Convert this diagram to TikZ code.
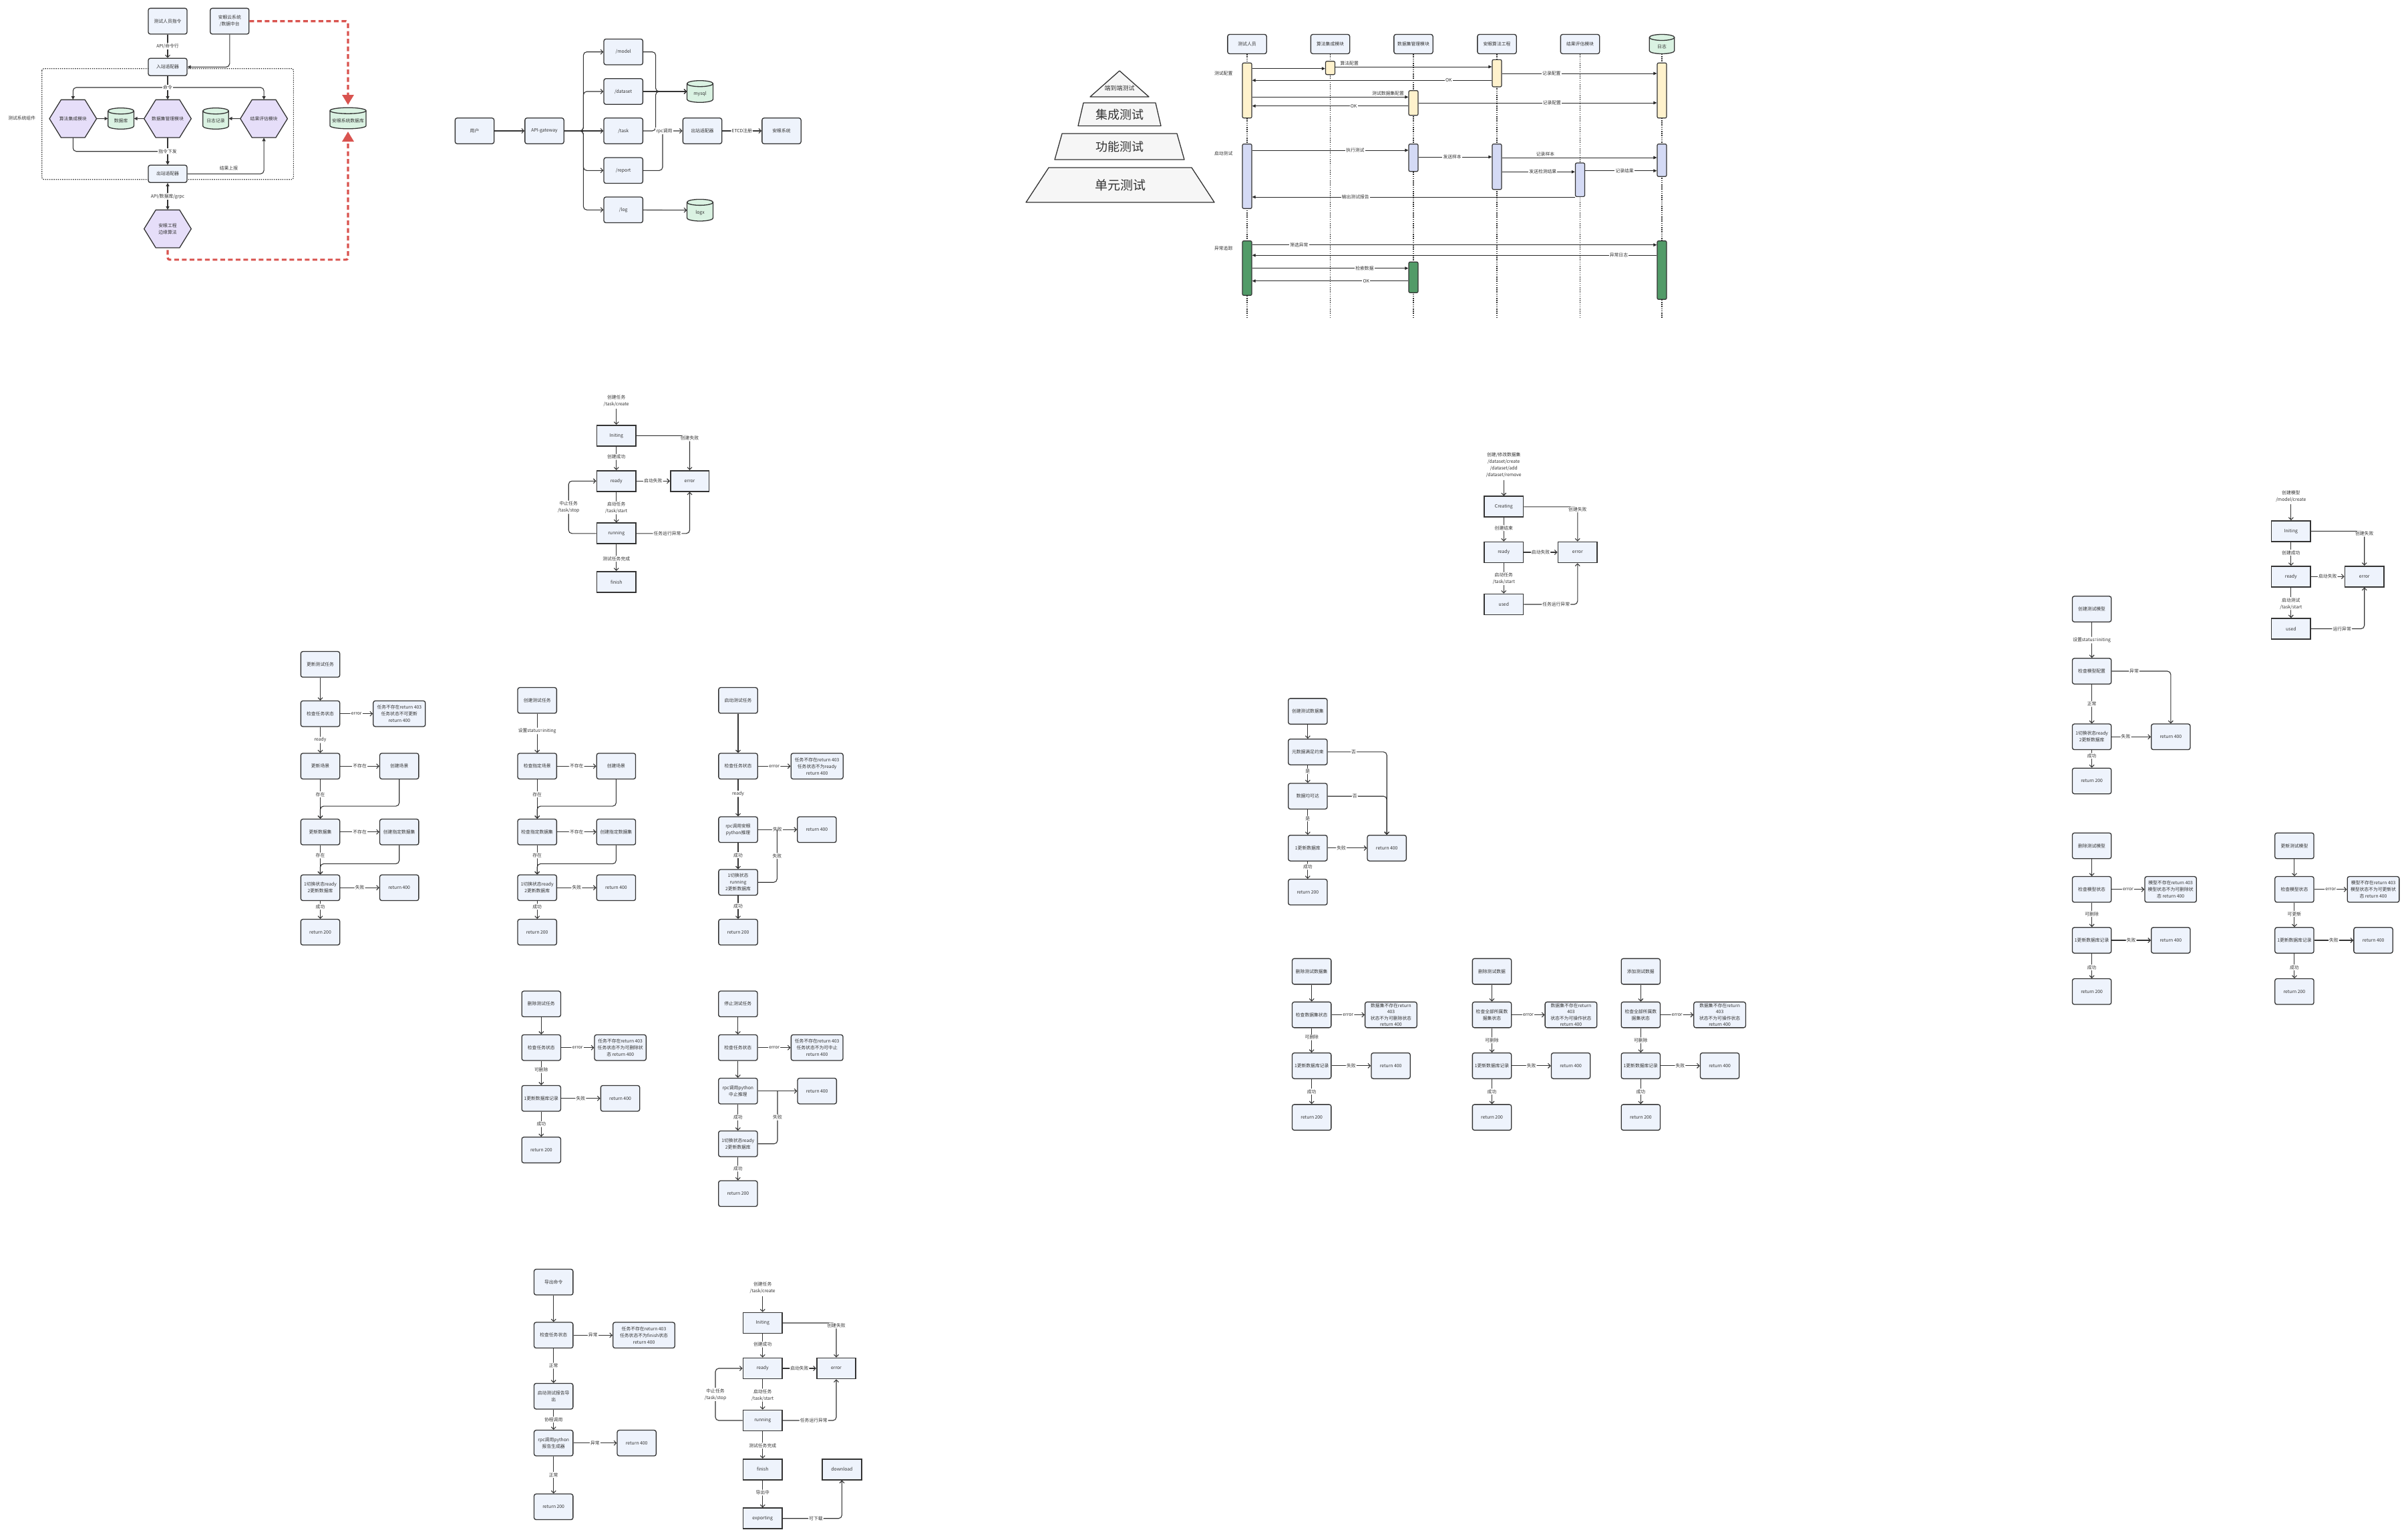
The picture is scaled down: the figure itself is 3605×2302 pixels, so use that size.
\documentclass[tikz,border=0pt]{standalone}
\usepackage{fontspec}
\setmainfont{Noto Sans CJK SC}
\usetikzlibrary{arrows.meta}

\definecolor{boxfill}{HTML}{EEF3FC}
\definecolor{boxline}{HTML}{333333}
\definecolor{hexfill}{HTML}{E6DEF9}
\definecolor{cylfill}{HTML}{DAF2E2}
\definecolor{txt}{HTML}{333333}
\definecolor{alarm}{HTML}{D9534F}
\definecolor{actyellow}{HTML}{FFF2CC}
\definecolor{actblue}{HTML}{D4DAF5}
\definecolor{actgreen}{HTML}{529B68}

\tikzset{
  % boxes
  fbox/.style={draw=boxline, fill=boxfill, line width=1.3pt, rounded corners=3pt,
    minimum width=58.3pt, minimum height=38.5pt, inner sep=1.5pt, align=center},
  sbox/.style={draw=boxline, fill=boxfill, line width=1.7pt,
    minimum width=58.5pt, minimum height=31pt, align=center},
  hexsize/.style={minimum width=70.6pt, minimum height=56.7pt, inner sep=0pt, align=center},
  hexline/.style={draw=boxline, fill=hexfill, line width=1.3pt, line join=round},
  cylline/.style={draw=boxline, fill=cylfill, line width=1.3pt},
  cylsize/.style={inner sep=0pt},
  act/.style={draw=boxline, line width=1.2pt, rounded corners=2pt, minimum width=14pt, inner sep=0pt},
  % lines
  flow/.style={draw=boxline, line width=1.1pt, rounded corners=5pt, -{Straight Barb[length=3.5pt,width=7pt]}},
  flowline/.style={draw=boxline, line width=1.1pt, rounded corners=5pt},
  arr/.style={draw=boxline, line width=1.1pt, rounded corners=5pt, -{Triangle[length=5pt,width=5pt]}},
  arrboth/.style={draw=boxline, line width=1.1pt, {Triangle[length=5pt,width=5pt]}-{Triangle[length=5pt,width=5pt]}},
  msg/.style={draw=black!85, line width=1pt, -{Triangle[length=5pt,width=4.5pt]}},
  life/.style={draw=boxline, line width=1.1pt, dash pattern=on 1.6pt off 1.6pt},
  zone/.style={draw=boxline, line width=1.1pt, dash pattern=on 1.5pt off 1.7pt, rounded corners=3pt},
  alarmline/.style={draw=alarm, line width=3.2pt, dash pattern=on 7pt off 4.5pt, rounded corners=3pt,
    shorten >=4pt, -{Triangle[length=15pt,width=17pt]}},
  pyr/.style={draw=boxline, fill=gray!7, line width=1.3pt, line join=round},
  lbl/.style={fill=white, inner sep=1.2pt, align=center},
}

% hexagon: name, x, y, text
\newcommand{\hexnode}[4]{%
  \filldraw[hexline] (#2-35.3,#3) -- ++(17.5,-28.35) -- ++(35.6,0) -- ++(17.5,28.35)
    -- ++(-17.5,28.35) -- ++(-35.6,0) -- cycle;
  \node[hexsize] (#1) at (#2,#3) {#4};}

% cylinder: name, x, y, half width, half height, text
\newcommand{\cylnode}[6]{%
  \filldraw[cylline] (#2-#4,#3-#5+4.5) -- (#2-#4,#3+#5-4.5)
    arc[start angle=180, end angle=360, x radius=#4pt, y radius=4.5pt]
    -- (#2+#4,#3-#5+4.5)
    arc[start angle=0, end angle=180, x radius=#4pt, y radius=4.5pt] -- cycle;
  \draw[cylline, fill=none] (#2-#4,#3-#5+4.5)
    arc[start angle=180, end angle=360, x radius=#4pt, y radius=4.5pt];
  \node[cylsize, minimum width=2*#4pt, minimum height=2*#5pt] (#1) at (#2,#3) {};
  \node[inner sep=0pt] (#1-t) at (#2,#3+3.5) {#6};}

\begin{document}
\begin{tikzpicture}[x=1pt, y=-1pt, font=\fontsize{6.8}{10}\selectfont, text=txt]

  \useasboundingbox (0,0) rectangle (3605,2302);
  \fill[white] (0,0) rectangle (3605,2302);

  % ---------------- system architecture ----------------
  \draw[zone] (62.7,102.7) rectangle (439.4,268.7);
  \node (zoneT) at (32.7,177.3) {测试系统组件};
  \node[fbox, minimum width=58pt, minimum height=38.7pt] (cmd) at (251,31.7) {测试人员指令};
  \node[fbox, minimum width=58pt, minimum height=38.7pt] (cloud) at (343.8,31.7) {安眼云系统\\/数据中台};
  \node[fbox, minimum width=58pt, minimum height=26pt] (inad) at (251,100.3) {入站适配器};
  \node[fbox, minimum width=58pt, minimum height=26pt] (outad) at (251,260.3) {出站适配器};
  \hexnode{alg}{109.3}{177.7}{算法集成模块}
  \hexnode{dsm}{251}{177.7}{数据集管理模块}
  \hexnode{res}{395.1}{177.7}{结果评估模块}
  \hexnode{edgeHex}{251}{342.7}{安眼工程\\边缘算法}
  \cylnode{db}{181.1}{177.5}{19.3}{15.8}{数据库}
  \cylnode{logdb}{323}{177.5}{19.3}{15.8}{日志记录}
  \cylnode{sysdb}{521}{177}{27}{15.8}{安眼系统数据库}

  \draw[flow] (cmd) -- node[lbl]{API/命令行} (inad);
  \draw[arr] (cloud.south) |- (inad.east);
  \coordinate (cmdY) at (251,131);
  \draw[arr] (inad.south) -- (cmdY) -| (alg.north);
  \draw[arr] (inad.south) -- (dsm.north);
  \draw[arr] (inad.south) -- (cmdY) -| (res.north);
  \node[lbl] (cmdL) at (cmdY) {命令};
  \draw[arr] (alg.east) -- (db.west);
  \draw[arr] (dsm.west) -- (db.east);
  \draw[arr] (res.west) -- (logdb.east);
  \coordinate (cmdZ) at (251,226.7);
  \draw[arr] (alg.south) |- (cmdZ) -- (outad.north);
  \draw[arr] (dsm.south) -- (outad.north);
  \node[lbl] (cmdZL) at (cmdZ) {指令下发};
  \draw[arr] (outad.east) -| node[pos=0.27, above=1pt]{结果上报} (res.south);
  \draw[arrboth] (outad) -- node[lbl]{API/数据库/grpc} (edgeHex);
  \draw[alarmline] (cloud.east) -| (sysdb.north);
  \draw[alarmline, shorten <=3pt] (edgeHex.south) -- ++(0,17.6) -| (sysdb.south);

  % ---------------- api gateway ----------------
  \node[fbox] (user) at (710.5,196) {用户};
  \node[fbox] (gw) at (815,196) {API-gateway};
  \node[fbox] (mdl) at (933.2,77.7) {/model};
  \node[fbox] (dset) at (933.2,137) {/dataset};
  \node[fbox] (task) at (933.2,196) {/task};
  \node[fbox] (rep) at (933.2,255.3) {/report};
  \node[fbox] (logr) at (933.2,314.3) {/log};
  \cylnode{mysql}{1048}{137}{19.5}{16.3}{mysql}
  \cylnode{logx}{1048}{314.7}{19.5}{16.3}{logx}
  \node[fbox] (out) at (1051.5,196) {出站适配器};
  \node[fbox] (sys) at (1170,196) {安眼系统};

  \draw[flow] (user) -- (gw);
  \coordinate (gwB) at (873.4,196);
  \foreach \t in {mdl,dset,rep,logr}
    \draw[flow] (gw.east) -- (gwB) |- (\t.west);
  \draw[flow] (gw) -- (task);
  \coordinate (dbB) at (981.6,137);
  \draw[flow] (mdl.east) -| (dbB) -- (mysql.west);
  \draw[flow] (task.east) -| (dbB) -- (mysql.west);
  \draw[flow] (dset) -- (mysql.west);
  \coordinate (rpcP) at (992,196);
  \draw[flow] (rep.east) -| (rpcP) -- (out.west);
  \node[lbl] (rpcL) at (994.5,196) {rpc调用};
  \draw[flow] (out) -- node[lbl]{ETCD注册} (sys);
  \draw[flow] (logr) -- (logx.west);

  % ---------------- test pyramid ----------------
  \filldraw[pyr] (1676,106) -- (1720,145) -- (1632,145) -- cycle;
  \node[font=\fontsize{9}{10}\selectfont] (pyrA) at (1676,132) {端到端测试};
  \filldraw[pyr] (1622,154) -- (1730,154) -- (1738,188.5) -- (1614,188.5) -- cycle;
  \node[font=\fontsize{18}{20}\selectfont] (pyrB) at (1676,171.5) {集成测试};
  \filldraw[pyr] (1590,200) -- (1762,200) -- (1773,239) -- (1579,239) -- cycle;
  \node[font=\fontsize{18}{20}\selectfont] (pyrC) at (1676,219.5) {功能测试};
  \filldraw[pyr] (1570,251) -- (1784,251) -- (1818,303) -- (1536,303) -- cycle;
  \node[font=\fontsize{19}{21}\selectfont] (pyrD) at (1677,277) {单元测试};

  % ---------------- sequence ----------------
  \foreach \n/\x/\t in {hTs/1867/测试人员, hAl/1991.5/算法集成模块, hDs/2116/数据集管理模块,
                        hEn/2241/安眼算法工程, hRs/2365.5/结果评估模块}
    \node[fbox, minimum height=29pt] (\n) at (\x,66) {\t};
  \cylnode{hLg}{2488}{66}{18.8}{14.5}{日志}
  \foreach \n in {hTs,hAl,hDs,hEn,hRs,hLg}
    \draw[life] (\n.south) -- (\n.south |- 0,476.7);

  \node (phA) at (1831.7,110.3) {测试配置};
  \node (phB) at (1831.7,230.3) {启动测试};
  \node (phC) at (1831.7,372.3) {异常追踪};

  \node[act, fill=actyellow, minimum height=82.4pt] (tsY) at (1867,135.5) {};
  \node[act, fill=actblue, minimum height=96.6pt] (tsB) at (1867,264) {};
  \node[act, fill=actgreen, minimum height=81.6pt] (tsG) at (1867,401.5) {};
  \node[act, fill=actyellow, minimum height=20pt] (alY) at (1991.5,101.7) {};
  \node[act, fill=actyellow, minimum height=37pt] (dsY) at (2116,154.2) {};
  \node[act, fill=actblue, minimum height=41pt] (dsB) at (2116,236.2) {};
  \node[act, fill=actgreen, minimum height=46pt] (dsG) at (2116,415.3) {};
  \node[act, fill=actyellow, minimum height=40.7pt] (enY) at (2241,109.7) {};
  \node[act, fill=actblue, minimum height=68pt] (enB) at (2241,249.7) {};
  \node[act, fill=actblue, minimum height=50.3pt] (rsB) at (2365.5,269.2) {};
  \node[act, fill=actyellow, minimum height=82.4pt] (lgY) at (2488,135.5) {};
  \node[act, fill=actblue, minimum height=48.6pt] (lgB) at (2488,240) {};
  \node[act, fill=actgreen, minimum height=87.6pt] (lgG) at (2488,404.5) {};

  % configuration
  \draw[msg] (tsY.east |- 0,102.7) -- (alY.west |- 0,102.7);
  \draw[msg] (alY.east |- 0,100) -- node[pos=0.09, above=0.5pt, inner sep=1pt]{算法配置} (enY.west |- 0,100);
  \draw[msg] (enY.west |- 0,120.3) -- node[lbl, pos=0.18]{OK} (tsY.east |- 0,120.3);
  \draw[msg] (enY.east |- 0,110) -- node[lbl, pos=0.32]{记录配置} (lgY.west |- 0,110);
  \draw[msg] (tsY.east |- 0,145.3) -- node[pos=0.87, above=0.5pt, inner sep=1pt]{测试数据集配置} (dsY.west |- 0,145.3);
  \draw[msg] (dsY.west |- 0,158.7) -- node[lbl, pos=0.35]{OK} (tsY.east |- 0,158.7);
  \draw[msg] (dsY.east |- 0,154) -- node[lbl, pos=0.56]{记录配置} (lgY.west |- 0,154);
  % run
  \draw[msg] (tsB.east |- 0,225) -- node[lbl, pos=0.66]{执行测试} (dsB.west |- 0,225);
  \draw[msg] (dsB.east |- 0,235) -- node[lbl, pos=0.46]{发送样本} (enB.west |- 0,235);
  \draw[msg] (enB.east |- 0,236) -- node[pos=0.28, above=0.5pt, inner sep=1pt]{记录样本} (lgB.west |- 0,236);
  \draw[msg] (enB.east |- 0,257.3) -- node[lbl, pos=0.56]{发送检测结果} (rsB.west |- 0,257.3);
  \draw[msg] (rsB.east |- 0,255.7) -- node[lbl, pos=0.55]{记录结果} (lgB.west |- 0,255.7);
  \draw[msg] (rsB.west |- 0,295) -- node[lbl, pos=0.68]{输出测试报告} (tsB.east |- 0,295);
  % tracing
  \draw[msg] (tsG.east |- 0,366.7) -- node[lbl, pos=0.116]{筛选异常} (lgG.west |- 0,366.7);
  \draw[msg] (lgG.west |- 0,382.3) -- node[lbl, pos=0.094]{异常日志} (tsG.east |- 0,382.3);
  \draw[msg] (tsG.east |- 0,401.7) -- node[lbl, pos=0.72]{检索数据} (dsG.west |- 0,401.7);
  \draw[msg] (dsG.west |- 0,420.7) -- node[lbl, pos=0.27]{OK} (tsG.east |- 0,420.7);

  % ---------------- task states ----------------
  \node[align=center] (s1L) at (922.7,600) {创建任务\\/task/create};
  \node[sbox] (s1init) at (922.7,652.3) {Initing};
  \node[sbox] (s1ready) at (922.7,720.3) {ready};
  \node[sbox] (s1run) at (922.7,798.8) {running};
  \node[sbox] (s1fin) at (922.7,871.3) {finish};
  \node[sbox, minimum width=57.7pt] (s1err) at (1032.5,720.3) {error};
  \draw[flow] (s1L) -- (s1init);
  \draw[flow] (s1init) -| node[lbl, pos=0.5, yshift=-4pt]{创建失败} (s1err);
  \draw[flow] (s1init) -- node[lbl, pos=0.44]{创建成功} (s1ready);
  \draw[flow] (s1ready) -- node[lbl]{启动失败} (s1err);
  \draw[flow] (s1ready) -- node[lbl, pos=0.52]{启动任务\\/task/start} (s1run);
  \draw[flow] (s1run.west) -- ++(-41.4,0) |- node[lbl, pos=0.25]{中止任务\\/task/stop} (s1ready.west);
  \draw[flow] (s1run) -| node[lbl, pos=0.29]{任务运行异常} (s1err);
  \draw[flow] (s1run) -- node[lbl, pos=0.54]{测试任务完成} (s1fin);

  % ---------------- dataset states ----------------
  \node[align=center] (s2L) at (2251.3,696.7) {创建/修改数据集\\/dataset/create\\/dataset/add\\/dataset/remove};
  \node[sbox] (s2cre) at (2251.3,758.8) {Creating};
  \node[sbox] (s2ready) at (2251.3,827) {ready};
  \node[sbox] (s2used) at (2251.3,905) {used};
  \node[sbox] (s2err) at (2361.8,827) {error};
  \draw[flow] (s2L) -- (s2cre);
  \draw[flow] (s2cre) -| node[lbl, pos=0.5, yshift=-4pt]{创建失败} (s2err);
  \draw[flow] (s2cre) -- node[lbl, pos=0.44]{创建结束} (s2ready);
  \draw[flow] (s2ready) -- node[lbl]{启动失败} (s2err);
  \draw[flow] (s2ready) -- node[lbl, pos=0.51]{启动任务\\/task/start} (s2used);
  \draw[flow] (s2used) -| node[lbl, pos=0.3]{任务运行异常} (s2err);

  % ---------------- model states ----------------
  \node[align=center] (s3L) at (3429.8,742.8) {创建模型\\/model/create};
  \node[sbox] (s3init) at (3429.8,795.3) {Initing};
  \node[sbox] (s3ready) at (3429.8,863.3) {ready};
  \node[sbox] (s3used) at (3429.8,941.5) {used};
  \node[sbox] (s3err) at (3539.7,863.3) {error};
  \draw[flow] (s3L) -- (s3init);
  \draw[flow] (s3init) -| node[lbl, pos=0.5, yshift=-4pt]{创建失败} (s3err);
  \draw[flow] (s3init) -- node[lbl, pos=0.45]{创建成功} (s3ready);
  \draw[flow] (s3ready) -- node[lbl]{启动失败} (s3err);
  \draw[flow] (s3ready) -- node[lbl, pos=0.53]{启动测试\\/task/start} (s3used);
  \draw[flow] (s3used) -| node[lbl, pos=0.29]{运行异常} (s3err);

  % ---------------- report task states ----------------
  \node[align=center] (nL) at (1141.7,1928.7) {创建任务\\/task/create};
  \node[sbox] (ninit) at (1141.7,1981) {Initing};
  \node[sbox] (nready) at (1141.7,2049) {ready};
  \node[sbox] (nrun) at (1141.7,2127) {running};
  \node[sbox] (nfin) at (1141.7,2200.2) {finish};
  \node[sbox] (nexp) at (1141.7,2273.7) {exporting};
  \node[sbox] (nerr) at (1252,2049) {error};
  \node[sbox] (ndown) at (1260.4,2200.2) {download};
  \draw[flow] (nL) -- (ninit);
  \draw[flow] (ninit) -| node[lbl, pos=0.5, yshift=-4pt]{创建失败} (nerr);
  \draw[flow] (ninit) -- node[lbl, pos=0.45]{创建成功} (nready);
  \draw[flow] (nready) -- node[lbl]{启动失败} (nerr);
  \draw[flow] (nready) -- node[lbl, pos=0.52]{启动任务\\/task/start} (nrun);
  \draw[flow] (nrun.west) -- ++(-40.6,0) |- node[lbl, pos=0.25]{中止任务\\/task/stop} (nready.west);
  \draw[flow] (nrun) -| node[lbl, pos=0.29]{任务运行异常} (nerr);
  \draw[flow] (nrun) -- node[lbl, pos=0.53]{测试任务完成} (nfin);
  \draw[flow] (nfin) -- node[lbl, pos=0.45]{导出中} (nexp);
  \draw[flow] (nexp) -| node[lbl, pos=0.28]{可下载} (ndown);

  % ---------------- update task ----------------
  \node[fbox] (h1) at (479.5,994.8) {更新测试任务};
  \node[fbox] (h2) at (479.5,1068.7) {检查任务状态};
  \node[fbox, minimum width=78pt] (h2e) at (597.8,1068.7) {任务不存在return 403\\任务状态不可更新\\return 400};
  \node[fbox] (h3) at (479.5,1147.2) {更新场景};
  \node[fbox] (h3r) at (597.7,1147.2) {创建场景};
  \node[fbox] (h4) at (479.5,1245.8) {更新数据集};
  \node[fbox] (h4r) at (597.7,1245.8) {创建指定数据集};
  \node[fbox] (h5) at (479.5,1329.3) {1切换状态ready\\2更新数据库};
  \node[fbox] (h5r) at (597.7,1329.3) {return 400};
  \node[fbox] (h6) at (479.5,1395.8) {return 200};
  \draw[flow] (h1) -- (h2);
  \draw[flow] (h2) -- node[lbl]{error} (h2e);
  \draw[flow] (h2) -- node[lbl]{ready} (h3);
  \draw[flow] (h3) -- node[lbl]{不存在} (h3r);
  \draw[flow] (h3) -- node[lbl, pos=0.38]{存在} (h4);
  \draw[flow] (h3r.south) -- ++(0,40) -| (h4.north);
  \draw[flow] (h4) -- node[lbl]{不存在} (h4r);
  \draw[flow] (h4) -- node[lbl, pos=0.35]{存在} (h5);
  \draw[flow] (h4r.south) -- ++(0,27.7) -| (h5.north);
  \draw[flow] (h5) -- node[lbl]{失败} (h5r);
  \draw[flow] (h5) -- node[lbl, pos=0.32]{成功} (h6);

  % ---------------- create task ----------------
  \node[fbox] (i1) at (804.2,1048.8) {创建测试任务};
  \node[fbox] (i2) at (804.2,1147.2) {检查指定场景};
  \node[fbox] (i2r) at (922.4,1147.2) {创建场景};
  \node[fbox] (i3) at (804.2,1245.8) {检查指定数据集};
  \node[fbox] (i3r) at (922.4,1245.8) {创建指定数据集};
  \node[fbox] (i4) at (804.2,1329.3) {1切换状态ready\\2更新数据库};
  \node[fbox] (i4r) at (922.4,1329.3) {return 400};
  \node[fbox] (i5) at (804.2,1395.8) {return 200};
  \draw[flow] (i1) -- node[lbl, pos=0.44]{设置status=initing} (i2);
  \draw[flow] (i2) -- node[lbl]{不存在} (i2r);
  \draw[flow] (i2) -- node[lbl, pos=0.38]{存在} (i3);
  \draw[flow] (i2r.south) -- ++(0,40) -| (i3.north);
  \draw[flow] (i3) -- node[lbl]{不存在} (i3r);
  \draw[flow] (i3) -- node[lbl, pos=0.35]{存在} (i4);
  \draw[flow] (i3r.south) -- ++(0,27.7) -| (i4.north);
  \draw[flow] (i4) -- node[lbl]{失败} (i4r);
  \draw[flow] (i4) -- node[lbl, pos=0.32]{成功} (i5);

  % ---------------- start task ----------------
  \node[fbox] (j1) at (1105,1048.8) {启动测试任务};
  \node[fbox] (j2) at (1105,1147.2) {检查任务状态};
  \node[fbox, minimum width=78pt] (j2e) at (1223.2,1147.2) {任务不存在return 403\\任务状态不为ready\\return 400};
  \node[fbox] (j3) at (1105,1242.3) {rpc调用安眼\\python推理};
  \node[fbox] (j3r) at (1222.9,1242.3) {return 400};
  \node[fbox] (j4) at (1105,1321.2) {1切换状态\\running\\2更新数据库};
  \node[fbox] (j5) at (1105,1395.8) {return 200};
  \coordinate (jM) at (1163.3,1242.3);
  \draw[flow] (j1) -- (j2);
  \draw[flow] (j2) -- node[lbl]{error} (j2e);
  \draw[flow] (j2) -- node[lbl, pos=0.39]{ready} (j3);
  \draw[flow] (j3) -- node[lbl]{失败} (j3r);
  \draw[flow] (j3) -- node[lbl, pos=0.47]{成功} (j4);
  \draw[flowline] (j4) -| node[lbl, pos=0.75]{失败} (jM);
  \draw[flow] (j4) -- node[lbl, pos=0.45]{成功} (j5);

  % ---------------- delete task ----------------
  \node[fbox] (k1) at (810.3,1503.3) {删除测试任务};
  \node[fbox] (k2) at (810.3,1568.7) {检查任务状态};
  \node[fbox, minimum width=77.3pt] (k2e) at (928.7,1568.7) {任务不存在return 403\\任务状态不为可删除状\\态 return 400};
  \node[fbox] (k3) at (810.3,1644.7) {1更新数据库记录};
  \node[fbox] (k3r) at (928.5,1644.7) {return 400};
  \node[fbox] (k4) at (810.3,1722) {return 200};
  \draw[flow] (k1) -- (k2);
  \draw[flow] (k2) -- node[lbl]{error} (k2e);
  \draw[flow] (k2) -- node[lbl, pos=0.38]{可删除} (k3);
  \draw[flow] (k3) -- node[lbl]{失败} (k3r);
  \draw[flow] (k3) -- node[lbl]{成功} (k4);

  % ---------------- stop task ----------------
  \node[fbox] (p1) at (1104.8,1503.3) {停止测试任务};
  \node[fbox] (p2) at (1104.8,1568.7) {检查任务状态};
  \node[fbox, minimum width=77.7pt] (p2e) at (1223.2,1568.7) {任务不存在return 403\\任务状态不为可中止\\return 400};
  \node[fbox] (p3) at (1104.8,1633.7) {rpc调用python\\中止推理};
  \node[fbox] (p3r) at (1223.2,1633.7) {return 400};
  \node[fbox] (p4) at (1104.8,1712.7) {1切换状态ready\\2更新数据库};
  \node[fbox] (p5) at (1104.8,1787.3) {return 200};
  \coordinate (pM) at (1164,1633.7);
  \draw[flow] (p1) -- (p2);
  \draw[flow] (p2) -- node[lbl]{error} (p2e);
  \draw[flow] (p2) -- (p3);
  \draw[flow] (p3) -- (p3r);
  \draw[flow] (p3) -- node[lbl]{成功} (p4);
  \draw[flowline] (p4) -| node[lbl, pos=0.75]{失败} (pM);
  \draw[flow] (p4) -- node[lbl]{成功} (p5);

  % ---------------- export report ----------------
  \node[fbox] (m1) at (828.7,1919.8) {导出命令};
  \node[fbox] (m2) at (828.7,1999.3) {检查任务状态};
  \node[fbox, minimum width=92.6pt] (m2e) at (964,1999.3) {任务不存在return 403\\任务状态不为finish状态\\return 400};
  \node[fbox] (m3) at (828.7,2090.7) {启动测试报告导\\出};
  \node[fbox] (m4) at (828.7,2160.8) {rpc调用python\\报告生成器};
  \node[fbox] (m4r) at (953.2,2160.8) {return 400};
  \node[fbox] (m5) at (828.7,2256.3) {return 200};
  \draw[flow] (m1) -- (m2);
  \draw[flow] (m2) -- node[lbl]{异常} (m2e);
  \draw[flow] (m2) -- node[lbl]{正常} (m3);
  \draw[flow] (m3) -- node[lbl]{协程调用} (m4);
  \draw[flow] (m4) -- node[lbl]{异常} (m4r);
  \draw[flow] (m4) -- node[lbl]{正常} (m5);

  % ---------------- create dataset ----------------
  \node[fbox] (d1) at (1957.8,1065.1) {创建测试数据集};
  \node[fbox] (d2) at (1957.8,1125.9) {元数据满足约束};
  \node[fbox] (d3) at (1957.8,1192.2) {数据均可达};
  \node[fbox] (d4) at (1957.8,1269.9) {1更新数据库};
  \node[fbox] (d4r) at (2076.2,1269.9) {return 400};
  \node[fbox] (d5) at (1957.8,1335.8) {return 200};
  \draw[flow] (d1) -- (d2);
  \draw[flow] (d2) -| node[lbl, pos=0.22]{否} (d4r);
  \draw[flow] (d2) -- node[lbl, pos=0.34]{是} (d3);
  \draw[flow] (d3) -| node[lbl, pos=0.23]{否} (d4r);
  \draw[flow] (d3) -- node[lbl, pos=0.36]{是} (d4);
  \draw[flow] (d4) -- node[lbl, pos=0.35]{失败} (d4r);
  \draw[flow] (d4) -- node[lbl, pos=0.31]{成功} (d5);

  % ---------------- delete dataset ----------------
  \node[fbox] (e1) at (1963.7,1454.6) {删除测试数据集};
  \node[fbox] (e2) at (1963.7,1519.6) {检查数据集状态};
  \node[fbox, minimum width=77.6pt, font=\fontsize{6.8}{9.3}\selectfont] (e2e) at (2082.4,1519.6) {数据集不存在return\\403\\状态不为可删除状态\\return 400};
  \node[fbox] (e3) at (1963.7,1595.9) {1更新数据库记录};
  \node[fbox] (e3r) at (2082.1,1595.9) {return 400};
  \node[fbox] (e4) at (1963.7,1673.1) {return 200};
  \draw[flow] (e1) -- (e2);
  \draw[flow] (e2) -- node[lbl]{error} (e2e);
  \draw[flow] (e2) -- node[lbl, pos=0.38]{可删除} (e3);
  \draw[flow] (e3) -- node[lbl]{失败} (e3r);
  \draw[flow] (e3) -- node[lbl]{成功} (e4);

  % ---------------- delete data ----------------
  \node[fbox] (f1) at (2233.5,1454.6) {删除测试数据};
  \node[fbox] (f2) at (2233.5,1519.6) {检查全部所属数\\据集状态};
  \node[fbox, minimum width=77.6pt, font=\fontsize{6.8}{9.3}\selectfont] (f2e) at (2351.9,1519.6) {数据集不存在return\\403\\状态不为可操作状态\\return 400};
  \node[fbox] (f3) at (2233.5,1595.9) {1更新数据库记录};
  \node[fbox] (f3r) at (2351.6,1595.9) {return 400};
  \node[fbox] (f4) at (2233.5,1673.1) {return 200};
  \draw[flow] (f1) -- (f2);
  \draw[flow] (f2) -- node[lbl]{error} (f2e);
  \draw[flow] (f2) -- node[lbl]{可删除} (f3);
  \draw[flow] (f3) -- node[lbl]{失败} (f3r);
  \draw[flow] (f3) -- node[lbl]{成功} (f4);

  % ---------------- add data ----------------
  \node[fbox] (g1) at (2456.3,1454.6) {添加测试数据};
  \node[fbox] (g2) at (2456.3,1519.6) {检查全部所属数\\据集状态};
  \node[fbox, minimum width=77.6pt, font=\fontsize{6.8}{9.3}\selectfont] (g2e) at (2574.6,1519.6) {数据集不存在return\\403\\状态不为可操作状态\\return 400};
  \node[fbox] (g3) at (2456.3,1595.9) {1更新数据库记录};
  \node[fbox] (g3r) at (2574.6,1595.9) {return 400};
  \node[fbox] (g4) at (2456.3,1673.1) {return 200};
  \draw[flow] (g1) -- (g2);
  \draw[flow] (g2) -- node[lbl]{error} (g2e);
  \draw[flow] (g2) -- node[lbl]{可删除} (g3);
  \draw[flow] (g3) -- node[lbl]{失败} (g3r);
  \draw[flow] (g3) -- node[lbl]{成功} (g4);

  % ---------------- create model ----------------
  \node[fbox] (a1) at (3131.6,912) {创建测试模型};
  \node[fbox] (a2) at (3131.6,1005) {检查模型配置};
  \node[fbox] (a3) at (3131.6,1103.3) {1切换状态ready\\2更新数据库};
  \node[fbox] (a3r) at (3249.8,1103.3) {return 400};
  \node[fbox] (a4) at (3131.6,1169.4) {return 200};
  \draw[flow] (a1) -- node[lbl]{设置status=initing} (a2);
  \draw[flow] (a2) -| node[lbl, pos=0.19]{异常} (a3r);
  \draw[flow] (a2) -- node[lbl]{正常} (a3);
  \draw[flow] (a3) -- node[lbl, pos=0.36]{失败} (a3r);
  \draw[flow] (a3) -- node[lbl, pos=0.33]{成功} (a4);

  % ---------------- delete model ----------------
  \node[fbox] (b1) at (3131.6,1266.5) {删除测试模型};
  \node[fbox] (b2) at (3131.6,1331.8) {检查模型状态};
  \node[fbox, minimum width=77.3pt] (b2e) at (3249.6,1331.8) {模型不存在return 403\\模型状态不为可删除状\\态 return 400};
  \node[fbox] (b3) at (3131.6,1408) {1更新数据库记录};
  \node[fbox] (b3r) at (3249.8,1408) {return 400};
  \node[fbox] (b4) at (3131.6,1484.8) {return 200};
  \draw[flow] (b1) -- (b2);
  \draw[flow] (b2) -- node[lbl]{error} (b2e);
  \draw[flow] (b2) -- node[lbl, pos=0.46]{可删除} (b3);
  \draw[flow] (b3) -- node[lbl]{失败} (b3r);
  \draw[flow] (b3) -- node[lbl, pos=0.56]{成功} (b4);

  % ---------------- update model ----------------
  \node[fbox] (c1) at (3434.9,1266.5) {更新测试模型};
  \node[fbox] (c2) at (3434.9,1331.8) {检查模型状态};
  \node[fbox, minimum width=77.7pt] (c2e) at (3553,1331.8) {模型不存在return 403\\模型状态不为可更新状\\态 return 400};
  \node[fbox] (c3) at (3434.9,1408) {1更新数据库记录};
  \node[fbox] (c3r) at (3553,1408) {return 400};
  \node[fbox] (c4) at (3434.9,1484.8) {return 200};
  \draw[flow] (c1) -- (c2);
  \draw[flow] (c2) -- node[lbl]{error} (c2e);
  \draw[flow] (c2) -- node[lbl, pos=0.46]{可更新} (c3);
  \draw[flow] (c3) -- node[lbl]{失败} (c3r);
  \draw[flow] (c3) -- node[lbl, pos=0.56]{成功} (c4);

\end{tikzpicture}
\end{document}
